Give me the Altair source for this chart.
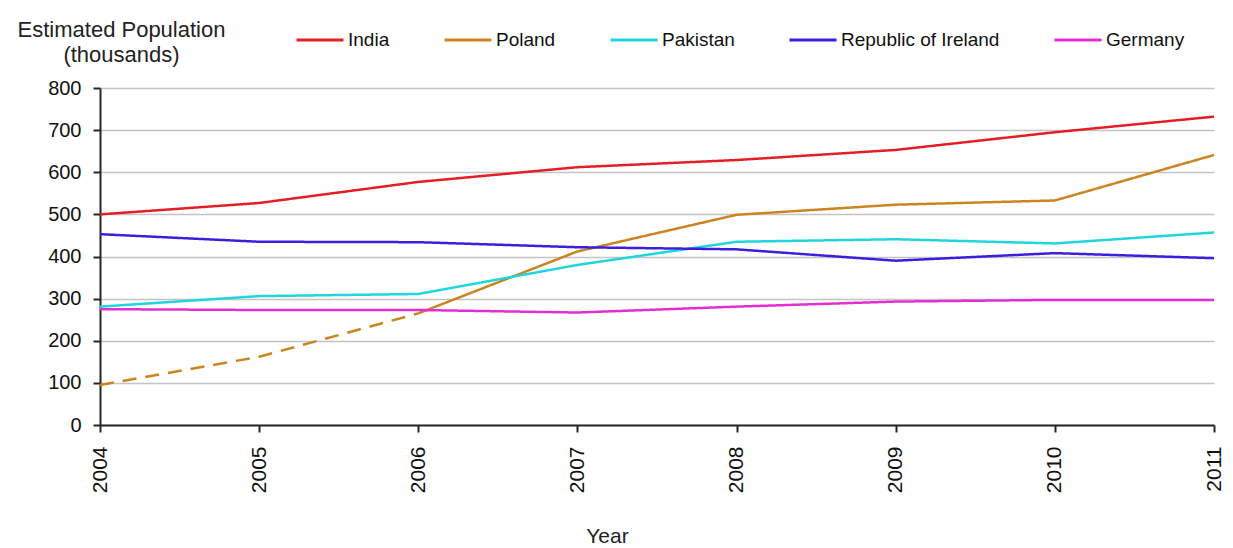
import altair as alt
import pandas as pd

# ---- data ----
years = [2004, 2005, 2006, 2007, 2008, 2009, 2010, 2011]
india = [500, 527, 577, 612, 629, 653, 695, 732]
poland = [95, 162, 265, 412, 499, 523, 533, 641]
pakistan = [281, 306, 311, 380, 435, 441, 431, 457]
ireland = [453, 435, 434, 422, 417, 390, 408, 396]
germany = [275, 273, 273, 267, 281, 293, 297, 297]

countries = ["India", "Poland", "Pakistan", "Republic of Ireland", "Germany"]
colors = ["#e31e24", "#cc8420", "#1fd6de", "#3b1fde", "#e22fd4"]
poland_dashed_until = 2006
y_ticks = [0, 100, 200, 300, 400, 500, 600, 700, 800]

rows = []
for name, vals in zip(countries, [india, poland, pakistan, ireland, germany]):
    for yr, v in zip(years, vals):
        if name == "Poland" and yr <= poland_dashed_until:
            rows.append(dict(Year=yr, Value=v, Country=name, Style="estimated"))
        if not (name == "Poland" and yr < poland_dashed_until):
            rows.append(dict(Year=yr, Value=v, Country=name, Style="measured"))
df = pd.DataFrame(rows)

FONT = "Liberation Sans"
AXIS_COL = "#262626"

chart = alt.Chart(df).mark_line(strokeWidth=2.5).encode(
    x=alt.X(
        "Year:O",
        scale=alt.Scale(type="point", padding=0),
        axis=alt.Axis(
            title="Year", labelAngle=270, labelAlign="right", labelBaseline="middle",
            labelFontSize=21, labelPadding=14, labelColor="#111", tickSize=7,
            tickColor=AXIS_COL, tickWidth=2, domainColor=AXIS_COL, domainWidth=2,
            grid=False, titleX=507, titleY=117, titleAlign="center",
            titleBaseline="alphabetic", titleFontSize=21, titleFontWeight="normal",
            titleColor="#222",
        ),
    ),
    y=alt.Y(
        "Value:Q",
        scale=alt.Scale(domain=[0, 800], nice=False),
        axis=alt.Axis(
            values=y_ticks, title=["Estimated Population", "(thousands)"],
            titleAngle=0, titleAlign="center", titleBaseline="alphabetic",
            titleX=21, titleY=-52, titleFontSize=22, titleFontWeight="normal",
            titleLineHeight=25, titleColor="#222",
            labelFontSize=20, labelPadding=12, labelColor="#111", tickSize=7,
            tickColor=AXIS_COL, tickWidth=2, domainColor=AXIS_COL, domainWidth=2,
            grid=True, gridColor="#c4c4c4", gridWidth=1.5,
        ),
    ),
    color=alt.Color(
        "Country:N",
        scale=alt.Scale(domain=countries, range=colors),
        legend=alt.Legend(
            orient="none", legendX=195, legendY=-73, direction="horizontal",
            columns=5, title=None, symbolType="stroke", symbolSize=2209,
            symbolStrokeWidth=3, labelFontSize=19, labelColor="#111",
            labelOffset=3, columnPadding=48, padding=0, labelLimit=400,
        ),
    ),
    strokeDash=alt.StrokeDash(
        "Style:N",
        scale=alt.Scale(domain=["measured", "estimated"], range=[[1, 0], [14, 9]]),
        legend=None,
    ),
).properties(
    width=1114,
    height=337,
    autosize=alt.AutoSizeParams(type="none"),
    padding={"left": 92, "top": 80, "right": 11, "bottom": 120},
).configure(font=FONT).configure_view(stroke=None)

chart.save("out.html", embed_options={"renderer": "svg", "actions": False})
